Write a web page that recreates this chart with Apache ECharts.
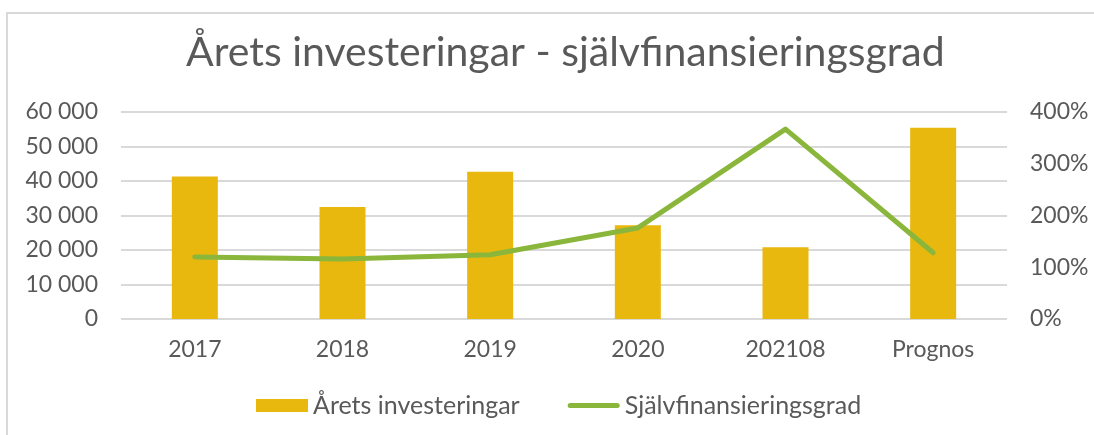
<!DOCTYPE html>
<html>
<head>
<meta charset="utf-8">
<script src="https://cdn.jsdelivr.net/npm/echarts@6/dist/echarts.min.js"></script>
<style>
  html, body { margin: 0; padding: 0; background: #fff; }
  #chart { width: 1094px; height: 435px; }
</style>
</head>
<body>
<div id="chart"></div>
<script>
// Kategorier och värden
const categories = ['2017', '2018', '2019', '2020', '202108', 'Prognos'];
const investeringar = [41300, 32500, 42700, 27200, 20800, 55400];   // tkr
const sjalvfinansieringsgrad = [120, 116, 124, 176, 367, 128];     // procent

const textColor = '#595959';
const fontFamily = 'Lato, "DejaVu Sans", sans-serif';
const barColor = '#e9b80e';
const lineColor = '#8ab63b';

const fmtThousands = v => String(v).replace(/\B(?=(\d{3})+(?!\d))/g, ' ');

// Legend icon for the line: a thin rounded bar centred in a 52x13 box
const lineIcon = 'path://M0,0 L0,0 M2.5,4 L49.5,4 A2.5,2.5 0 0 1 49.5,9 L2.5,9 A2.5,2.5 0 0 1 2.5,4 Z M52,13 L52,13';

const chart = echarts.init(document.getElementById('chart'));
chart.setOption({
  animation: false,
  backgroundColor: '#ffffff',
  textStyle: { fontFamily: fontFamily, color: textColor },
  graphic: [{
    type: 'rect',
    silent: true,
    shape: { x: 7, y: 13, width: 1200, height: 600 },
    style: { fill: 'none', stroke: '#d9d9d9', lineWidth: 2 }
  }],
  title: {
    text: 'Årets investeringar - självfinansieringsgrad',
    left: 181,
    top: 27,
    textStyle: { fontFamily: fontFamily, fontSize: 41, fontWeight: 'normal', color: textColor }
  },
  legend: {
    top: 388,
    left: 251,
    itemWidth: 52,
    itemHeight: 13,
    itemGap: 48,
    textStyle: { fontFamily: fontFamily, fontSize: 25, color: textColor },
    data: [
      { name: 'Årets investeringar', icon: 'rect', itemStyle: { color: barColor } },
      { name: 'Självfinansieringsgrad', icon: lineIcon, itemStyle: { color: lineColor } }
    ]
  },
  grid: { left: 121, right: 87, top: 112, bottom: 116 },
  xAxis: {
    type: 'category',
    data: categories,
    axisLine: { show: false },
    axisTick: { show: false },
    axisLabel: { color: textColor, fontSize: 23, margin: 19, fontFamily: fontFamily }
  },
  yAxis: [{
    type: 'value',
    min: 0, max: 60000, interval: 10000,
    axisLine: { show: false },
    axisTick: { show: false },
    splitLine: { lineStyle: { color: '#d9d9d9', width: 2 } },
    axisLabel: { color: textColor, fontSize: 23, margin: 23, fontFamily: fontFamily, formatter: fmtThousands }
  }, {
    type: 'value',
    min: 0, max: 400, interval: 100,
    axisLine: { show: false },
    axisTick: { show: false },
    splitLine: { show: false },
    axisLabel: { color: textColor, fontSize: 23, margin: 23, fontFamily: fontFamily, formatter: '{value}%' }
  }],
  series: [{
    name: 'Årets investeringar',
    type: 'bar',
    data: investeringar,
    barWidth: 46,
    itemStyle: { color: barColor }
  }, {
    name: 'Självfinansieringsgrad',
    type: 'line',
    yAxisIndex: 1,
    data: sjalvfinansieringsgrad,
    showSymbol: false,
    symbol: 'none',
    lineStyle: { color: lineColor, width: 5, cap: 'round', join: 'round' },
    itemStyle: { color: lineColor }
  }]
});
</script>
</body>
</html>
